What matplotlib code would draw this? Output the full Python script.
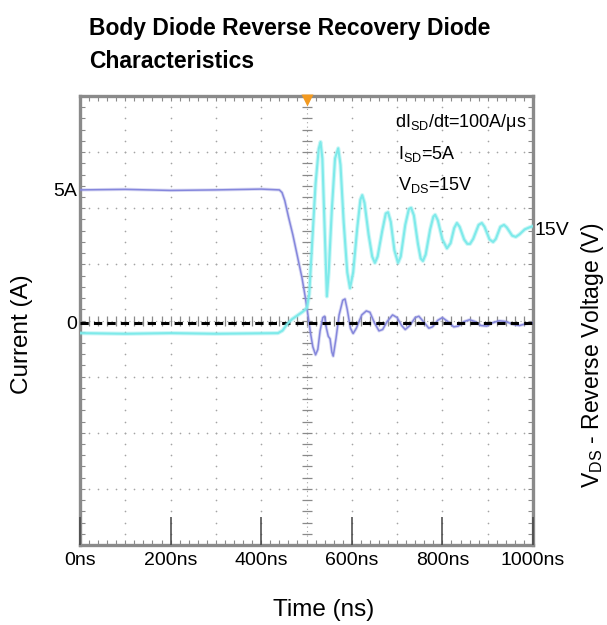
import numpy as np
import matplotlib.pyplot as plt

# ── Fonts ──────────────────────────────────────────────
plt.rcParams['font.family'] = ['Liberation Sans', 'DejaVu Sans']
plt.rcParams['mathtext.fontset'] = 'custom'
plt.rcParams['mathtext.rm'] = 'Liberation Sans'
plt.rcParams['mathtext.it'] = 'Liberation Sans:italic'

# ── Scope data ─────────────────────────────────────────
# Current trace (purple), time in ns, current in A
TIME_I = [0, 100, 200, 300, 400, 440, 446, 452, 460, 470, 480, 490, 498, 504,
          509, 514, 520, 525, 530, 536, 540, 544, 548, 552, 556, 559, 565,
          572, 580, 585, 590, 597, 603, 610, 622, 632, 640, 650, 660, 668,
          678, 690, 700, 710, 718, 728, 740, 748, 758, 770, 778, 790, 800,
          812, 825, 835, 848, 860, 872, 885, 898, 910, 925, 940, 955, 970,
          985, 1000]
CURRENT_A = [5.0, 5.02, 4.98, 5.0, 5.03, 5.0, 4.9, 4.6, 4.0, 3.3, 2.5, 1.7,
             0.9, 0.2, -0.4, -0.9, -1.2, -1.0, -0.3, 0.2, 0.25, -0.2, -0.5,
             -0.6, -1.1, -1.25, -0.6, 0.3, 0.85, 0.9, 0.5, -0.2, -0.4, -0.2,
             0.3, 0.45, 0.4, 0.0, -0.3, -0.25, 0.05, 0.3, 0.2, -0.1, -0.25,
             -0.1, 0.2, 0.25, 0.05, -0.2, -0.15, 0.1, 0.2, 0.05, -0.15, -0.12,
             0.05, 0.12, 0.05, -0.1, -0.12, 0.0, 0.08, 0.05, -0.05, -0.1,
             -0.03, 0.0]

# Voltage trace (cyan), time in ns, V_DS in V
TIME_V = [0, 100, 200, 300, 437, 447, 457, 468, 480, 492, 501, 506, 512, 520,
          527, 531, 535, 540, 545, 549, 556, 563, 570, 575, 582, 590, 596,
          603, 612, 619, 623, 628, 637, 645, 651, 657, 667, 675, 680, 686,
          694, 702, 708, 718, 726, 731, 737, 746, 752, 757, 763, 773, 780,
          784, 790, 800, 810, 818, 826, 832, 838, 848, 855, 861, 868, 880,
          887, 893, 904, 912, 918, 928, 936, 942, 954, 962, 970, 982, 992,
          1000]
VOLTAGE_V = [-1.6, -1.7, -1.6, -1.7, -1.6, -1.2, -0.2, 0.6, 1.2, 1.8, 2.4,
             4.5, 12, 22, 27.5, 28.6, 26, 15, 4.2, 8, 18, 26, 27.6, 25, 16, 8,
             5.5, 8, 15, 19.5, 20.2, 19, 14, 10.5, 9.5, 10.5, 14.5, 17.3,
             17.5, 16, 11.5, 9.5, 10.5, 15.5, 18, 18.2, 17, 12.5, 10.2, 9.8,
             10.8, 14.8, 16.8, 17.1, 16.2, 13.2, 11.8, 12.6, 15, 15.8, 15.2,
             13.2, 12.5, 12.5, 13.3, 15.5, 15.8, 15.2, 13.2, 12.8, 13.3, 15.2,
             15.5, 15.1, 13.8, 13.6, 14, 14.8, 15.1, 15.3]

X_TICKS = [0, 200, 400, 600, 800, 1000]
X_TICK_LABELS = ['0ns', '200ns', '400ns', '600ns', '800ns', '1000ns']
I_TICKS = [0, 5]
I_TICK_LABELS = ['0', '5A']
V_TICKS = [15]
V_TICK_LABELS = ['15V']
TRIGGER_NS = 500

PURPLE = '#8587dc'
CYAN = '#7eeaea'
GRID = '#a4a4a4'
FRAME = '#8a8a8a'

fig = plt.figure(figsize=(6.07, 6.25), dpi=100)
pos = [80 / 607, 80 / 625, 453 / 607, 449 / 625]

# ── Graticule (scope screen) ───────────────────────────
NX, NY = 10, 8
g = fig.add_axes(pos, zorder=0)
g.set_xlim(0, NX)
g.set_ylim(0, NY)
minor_x = np.arange(0, NX + 1e-9, 0.2)
minor_y = np.arange(0, NY + 1e-9, 0.2)
g.set_xticks(minor_x)
g.set_yticks(minor_y)
g.tick_params(which='both', direction='in', length=3.5, width=0.8,
              color=FRAME, labelbottom=False, labelleft=False,
              top=True, right=True)
for s in g.spines.values():
    s.set_color(FRAME)
    s.set_linewidth(2.4)

for i in range(1, NX):
    if i == NX // 2:
        continue
    g.plot(np.full_like(minor_y, i), minor_y, ls='none', marker='o', ms=1.2,
           mec='none', color=GRID)
for j in range(1, NY):
    if j == NY // 2:
        continue
    g.plot(minor_x, np.full_like(minor_x, j), ls='none', marker='o', ms=1.2,
           mec='none', color=GRID)

# centre crosshair with tick marks
g.plot([NX / 2, NX / 2], [0, NY], ls=(0, (1, 3)), lw=0.8, color=GRID)
g.plot([0, NX], [NY / 2, NY / 2], ls=(0, (1, 3)), lw=0.8, color=GRID)
g.plot(np.full_like(minor_y, NX / 2), minor_y, ls='none', marker='_', ms=7,
       mew=0.9, color=FRAME)
g.plot(minor_x, np.full_like(minor_x, NY / 2), ls='none', marker='|', ms=7,
       mew=0.9, color=FRAME)

# ── Current axis ───────────────────────────────────────
ax = fig.add_axes(pos, zorder=1)
ax.patch.set_visible(False)
ax.set_xlim(0, 1000)
ax.set_ylim(-8.35, 8.53)
for s in ax.spines.values():
    s.set_visible(False)

ax.plot(TIME_I, CURRENT_A, color=PURPLE, lw=2.4, alpha=0.3,
        solid_joinstyle='round')
ax.plot(TIME_I, CURRENT_A, color=PURPLE, lw=1.1, solid_joinstyle='round')
ax.axhline(0, color='black', lw=2.2, dashes=(2.7, 1.7), zorder=4)

ax.set_xticks(X_TICKS)
ax.set_xticklabels(X_TICK_LABELS, fontsize=14)
ax.tick_params(axis='x', direction='in', length=20, width=1.1,
               color='#444444', pad=5)
ax.set_yticks(I_TICKS)
ax.set_yticklabels(I_TICK_LABELS, fontsize=14)
ax.tick_params(axis='y', length=0, pad=2)

# trigger marker
ax.plot([TRIGGER_NS], [0.99], marker='v', ms=8, color='#f39a20', mec='none',
        transform=ax.get_xaxis_transform(), clip_on=False, zorder=6)

# ── Voltage axis ───────────────────────────────────────
ax2 = ax.twinx()
ax2.set_zorder(2)
ax2.patch.set_visible(False)
ax2.set_ylim(-35.07, 35.86)
for s in ax2.spines.values():
    s.set_visible(False)
ax2.plot(TIME_V, VOLTAGE_V, color=CYAN, lw=3.0, alpha=0.4,
         solid_joinstyle='round')
ax2.plot(TIME_V, VOLTAGE_V, color=CYAN, lw=1.5, solid_joinstyle='round')
ax2.set_yticks(V_TICKS)
ax2.set_yticklabels(V_TICK_LABELS, fontsize=14)
ax2.tick_params(axis='y', length=0, pad=1)

# ── Annotations ────────────────────────────────────────
ann_kw = dict(fontsize=13, ha='left', va='baseline')
fig.text(395 / 607, 1 - 127 / 625, r'dI$_{\mathrm{SD}}$/dt=100A/μs', **ann_kw)
fig.text(398 / 607, 1 - 159 / 625, r'I$_{\mathrm{SD}}$=5A', **ann_kw)
fig.text(398 / 607, 1 - 190 / 625, r'V$_{\mathrm{DS}}$=15V', **ann_kw)

# ── Titles and axis labels ─────────────────────────────
fig.text(89 / 607, 1 - 35 / 625, 'Body Diode Reverse Recovery Diode',
         fontsize=16.5, fontweight='bold', ha='left', va='baseline')
fig.text(89 / 607, 1 - 68 / 625, 'Characteristics',
         fontsize=16.5, fontweight='bold', ha='left', va='baseline')
fig.text(22 / 607, 1 - 334 / 625, 'Current (A)', fontsize=17.5,
         rotation=90, ha='center', va='center')
fig.text(324 / 607, 1 - 610 / 625, 'Time (ns)', fontsize=17.5,
         ha='center', va='center')
fig.text(593 / 607, 1 - 355 / 625, r'V$_{\mathrm{DS}}$ - Reverse Voltage (V)',
         fontsize=16.5, rotation=90, ha='center', va='center')

fig.savefig('out.png', dpi=100)
